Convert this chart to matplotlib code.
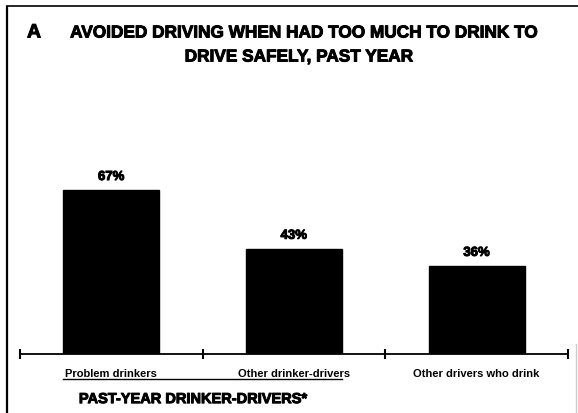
import matplotlib
matplotlib.use("Agg")
import matplotlib.pyplot as plt
import matplotlib.patheffects as pe
from matplotlib.lines import Line2D
import numpy as np

plt.rcParams['font.family'] = ['Liberation Sans', 'DejaVu Sans']

categories = ["Problem drinkers", "Other drinker-drivers", "Other drivers who drink"]
values = [67, 43, 36]
value_labels = ["67%", "43%", "36%"]
panel_letter = "A"
title_lines = ["AVOIDED DRIVING WHEN HAD TOO MUCH TO DRINK TO", "DRIVE SAFELY, PAST YEAR"]
group_label = "PAST-YEAR DRINKER-DRIVERS*"

W, H = 578, 414
fig = plt.figure(figsize=(W / 100, H / 100), dpi=100)
fig.patch.set_facecolor("white")

heavy = [pe.withStroke(linewidth=0.7, foreground="black")]

def fx(px):
    return px / W

def fy(py):
    return 1 - py / H

# axes: x-axis from px 20 to 568, baseline at px 355, top at px 120
ax = fig.add_axes([fx(20), fy(355), fx(568) - fx(20), fy(120) - fy(355)])
x = np.arange(len(categories))
bar_w = 0.525
ax.bar(x, values, width=bar_w, color="black", edgecolor="black")
ax.set_xlim(-0.5, len(categories) - 0.5)
ax.set_ylim(0, 96)

for xi, v, lab in zip(x, values, value_labels):
    ax.annotate(lab, (xi, v), xytext=(0, 5), textcoords="offset points",
                ha="center", va="bottom", fontsize=9.5, fontweight="bold",
                path_effects=heavy)

for s in ["top", "right", "left"]:
    ax.spines[s].set_visible(False)
ax.spines["bottom"].set_linewidth(1.3)
ax.set_yticks([])
ax.set_xticks(np.arange(len(categories) + 1) - 0.5)
ax.set_xticklabels([])
ax.tick_params(axis="x", which="major", direction="inout", length=7, width=1.5)
ax.set_xticks(x, minor=True)
ax.set_xticklabels(categories, minor=True, fontsize=8, fontweight="bold")
ax.tick_params(axis="x", which="minor", length=0, pad=10)

# underline bracket under first two categories
trans = ax.get_xaxis_transform()
ax.add_line(Line2D([x[0] - bar_w / 2, x[1] + bar_w / 2], [-0.106, -0.106],
                   transform=trans, color="black", lw=1.0, clip_on=False))
ax.text(0.45, -0.192, group_label, transform=trans, ha="center", va="center",
        fontsize=10.5, fontweight="bold", path_effects=heavy)

# title
fig.text(fx(27), fy(34), panel_letter, ha="left", va="center",
         fontsize=14, fontweight="bold", path_effects=heavy)
fig.text(fx(304), fy(34), title_lines[0], ha="center", va="center",
         fontsize=12.4, fontweight="bold", path_effects=heavy)
fig.text(fx(299), fy(58), title_lines[1], ha="center", va="center",
         fontsize=12.4, fontweight="bold", path_effects=heavy)

# frame borders (scan)
fig.add_artist(Line2D([fx(7), fx(7)], [fy(8), 0], transform=fig.transFigure,
                      color="black", lw=1.6))
fig.add_artist(Line2D([fx(7), 1], [fy(7), fy(7)], transform=fig.transFigure,
                      color="black", lw=1.2))
fig.add_artist(Line2D([fx(576), fx(576)], [fy(345), 0], transform=fig.transFigure,
                      color="#cccccc", lw=1.0))

fig.savefig("out.png", dpi=100, facecolor="white")
